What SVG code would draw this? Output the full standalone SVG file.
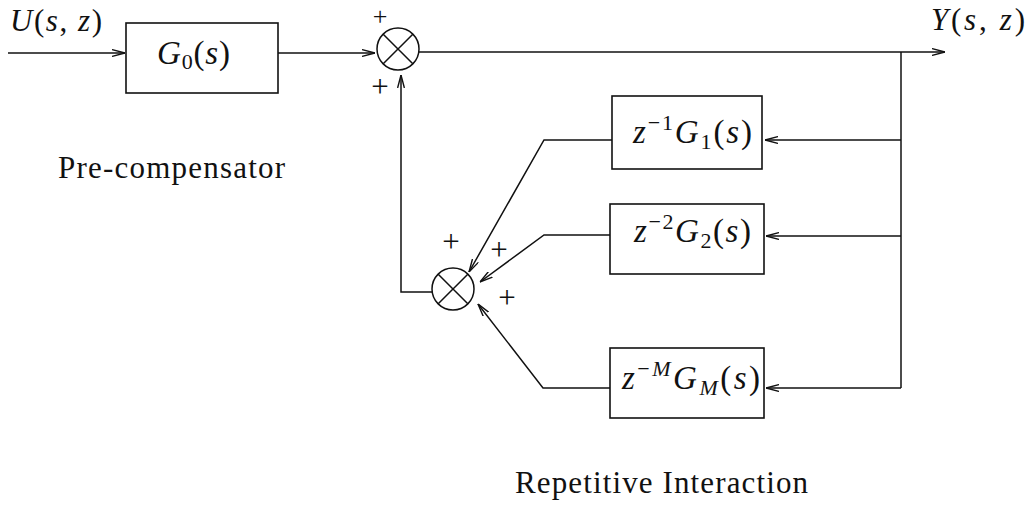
<svg xmlns="http://www.w3.org/2000/svg" width="1030" height="505" viewBox="0 0 1030 505">
<style>
  .ln { fill: none; stroke: #111; stroke-width: 1.5; }
  .bx { fill: #fff; stroke: #111; stroke-width: 1.6; }
  .t { font-family: "Liberation Serif", serif; fill: #111; }
  .i { font-style: italic; }
  .pl { font-family: "Liberation Serif", serif; font-size: 31px; fill: #111; text-anchor: middle; }
  .pltop { font-size: 26px; }
</style>
<defs>
  <marker id="arr" viewBox="0 0 13 8" refX="13" refY="4" markerWidth="13" markerHeight="8" orient="auto" markerUnits="userSpaceOnUse">
    <path d="M0,0.6 L13,4 L0,7.4" fill="none" stroke="#111" stroke-width="1.4"/>
  </marker>
</defs>
<rect width="1030" height="505" fill="#fff"/>

<g id="connectors">
  <line class="ln" x1="8" y1="53" x2="125" y2="53" marker-end="url(#arr)"/>
  <line class="ln" x1="278" y1="53" x2="375" y2="53" marker-end="url(#arr)"/>
  <line class="ln" x1="419" y1="52" x2="945" y2="52" marker-end="url(#arr)"/>
  <line class="ln" x1="901" y1="52" x2="901" y2="388"/>
  <line class="ln" x1="901" y1="140" x2="765" y2="140" marker-end="url(#arr)"/>
  <line class="ln" x1="901" y1="236" x2="766" y2="236" marker-end="url(#arr)"/>
  <line class="ln" x1="901" y1="388" x2="766" y2="388" marker-end="url(#arr)"/>
  <polyline class="ln" points="612,140 544,140 469,272" marker-end="url(#arr)"/>
  <polyline class="ln" points="610,235 544,235 480,282" marker-end="url(#arr)"/>
  <polyline class="ln" points="610,388 543,388 478,304" marker-end="url(#arr)"/>
  <polyline class="ln" points="432,292 401,292 401,75" marker-end="url(#arr)"/>
</g>

<g id="sum1">
  <circle class="ln" cx="398" cy="49" r="21"/>
  <line class="ln" x1="383.2" y1="34.2" x2="412.8" y2="63.8"/>
  <line class="ln" x1="412.8" y1="34.2" x2="383.2" y2="63.8"/>
  <text class="pl pltop" x="380" y="25">+</text>
  <text class="pl" x="380" y="97">+</text>
</g>

<g id="sum2">
  <circle class="ln" cx="453" cy="289" r="21"/>
  <line class="ln" x1="438.2" y1="274.2" x2="467.8" y2="303.8"/>
  <line class="ln" x1="467.8" y1="274.2" x2="438.2" y2="303.8"/>
  <text class="pl" x="451" y="252">+</text>
  <text class="pl" x="499" y="260">+</text>
  <text class="pl" x="507" y="308">+</text>
</g>

<g id="input-label">
  <text class="t" x="10" y="31" font-size="31" textLength="92" lengthAdjust="spacing"><tspan class="i">U</tspan>(<tspan class="i">s</tspan>, <tspan class="i">z</tspan>)</text>
</g>

<g id="output-label">
  <text class="t" x="931" y="30" font-size="31" textLength="94" lengthAdjust="spacing"><tspan class="i">Y</tspan>(<tspan class="i">s</tspan>, <tspan class="i">z</tspan>)</text>
</g>

<g id="G0">
  <rect class="bx" x="126" y="23" width="152" height="70"/>
  <text class="t" x="157" y="64" font-size="33" textLength="73" lengthAdjust="spacing"><tspan class="i">G</tspan><tspan font-size="22" dy="5">0</tspan><tspan dy="-5">(</tspan><tspan class="i">s</tspan>)</text>
</g>

<g id="precomp-label">
  <text class="t" x="58" y="178" font-size="31" textLength="227" lengthAdjust="spacing">Pre-compensator</text>
</g>

<g id="G1">
  <rect class="bx" x="612" y="96" width="150" height="73"/>
  <text class="t" x="633" y="143" font-size="33" textLength="119" lengthAdjust="spacing"><tspan class="i">z</tspan><tspan font-size="22" dy="-13">−1</tspan><tspan class="i" dy="13">G</tspan><tspan font-size="22" dy="6">1</tspan><tspan dy="-6">(</tspan><tspan class="i">s</tspan>)</text>
</g>

<g id="G2">
  <rect class="bx" x="610" y="204" width="154" height="70"/>
  <text class="t" x="634" y="242" font-size="33" textLength="117" lengthAdjust="spacing"><tspan class="i">z</tspan><tspan font-size="22" dy="-13">−2</tspan><tspan class="i" dy="13">G</tspan><tspan font-size="22" dy="6">2</tspan><tspan dy="-6">(</tspan><tspan class="i">s</tspan>)</text>
</g>

<g id="GM">
  <rect class="bx" x="610" y="348" width="154" height="70"/>
  <text class="t" x="622" y="389" font-size="33" textLength="138" lengthAdjust="spacing"><tspan class="i">z</tspan><tspan font-size="22" dy="-13">−</tspan><tspan class="i" font-size="22">M</tspan><tspan class="i" dy="13">G</tspan><tspan class="i" font-size="22" dy="6">M</tspan><tspan dy="-6">(</tspan><tspan class="i">s</tspan>)</text>
</g>

<g id="repetitive-label">
  <text class="t" x="515" y="493" font-size="31" textLength="293" lengthAdjust="spacing">Repetitive Interaction</text>
</g>
</svg>
